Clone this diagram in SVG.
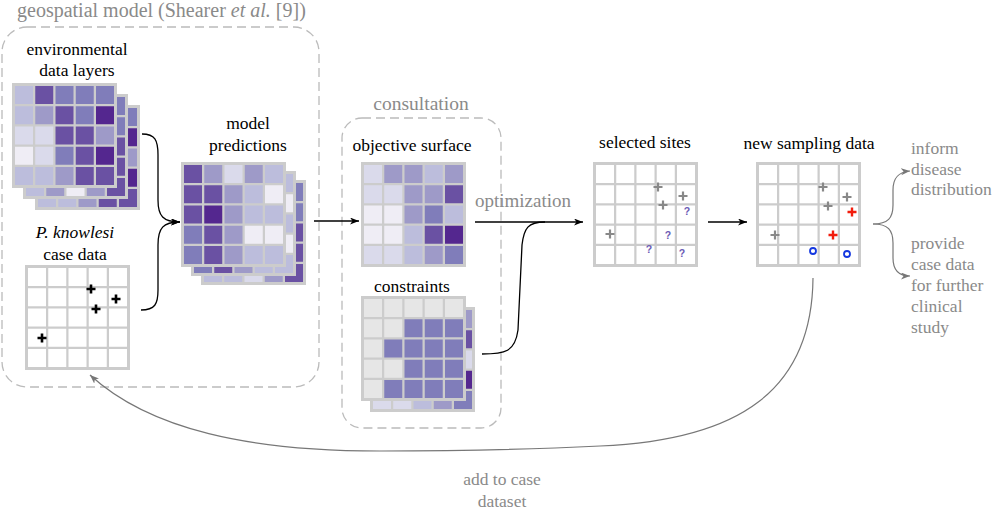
<svg xmlns="http://www.w3.org/2000/svg" width="1000" height="511" viewBox="0 0 1000 511">
<style>
.lbl{font-family:"Liberation Serif","Times New Roman","DejaVu Serif",serif;font-size:17.5px;fill:#000;text-anchor:middle}
.it{font-style:italic}
.gt{font-family:"Liberation Serif","Times New Roman","DejaVu Serif",serif;font-size:17.5px;fill:#8a8a8a}
.gc{text-anchor:middle}
.fr{fill:#cccccc}
.w{fill:#fff}
.c1{fill:#efedf5}.c2{fill:#dadaeb}.c3{fill:#bcbddc}.c4{fill:#9e9ac8}.c5{fill:#807dba}.c6{fill:#6a51a3}.c7{fill:#54278f}.cg{fill:#e6e6e6}
.dash{fill:none;stroke:#bbbbbb;stroke-width:1.3;stroke-dasharray:9 5}
.conn{fill:none;stroke:#000;stroke-width:1.3}
.gconn{fill:none;stroke:#777;stroke-width:1.2}
.pk{stroke:#000;stroke-width:2.6;fill:none}
.pg{stroke:#888;stroke-width:2.2;fill:none}
.pr{stroke:#f21d0d;stroke-width:2.4;fill:none}
.ob{stroke:#1538e0;stroke-width:1.8;fill:none}
.q{font-family:"Liberation Sans",sans-serif;font-weight:bold;font-size:10.5px;fill:#6b5bb5;text-anchor:middle}
</style>
<defs>
<marker id="ab" markerUnits="userSpaceOnUse" markerWidth="10" markerHeight="8" refX="9" refY="3.5" orient="auto"><path d="M0,0 L9,3.5 L0,7 L2.5,3.5 z" fill="#000"/></marker>
<marker id="ag" markerUnits="userSpaceOnUse" markerWidth="10" markerHeight="8" refX="9" refY="3.5" orient="auto"><path d="M0,0 L9,3.5 L0,7 L2.5,3.5 z" fill="#777"/></marker>
<path id="plus" d="M-4.5,0H4.5M0,-4.5V4.5"/>
<g id="wg">
<rect class="fr" width="105" height="105"/>
<rect class="w" x="3" y="3" width="18" height="18"/><rect class="w" x="23.25" y="3" width="18" height="18"/><rect class="w" x="43.5" y="3" width="18" height="18"/><rect class="w" x="63.75" y="3" width="18" height="18"/><rect class="w" x="84" y="3" width="18" height="18"/>
<rect class="w" x="3" y="23.25" width="18" height="18"/><rect class="w" x="23.25" y="23.25" width="18" height="18"/><rect class="w" x="43.5" y="23.25" width="18" height="18"/><rect class="w" x="63.75" y="23.25" width="18" height="18"/><rect class="w" x="84" y="23.25" width="18" height="18"/>
<rect class="w" x="3" y="43.5" width="18" height="18"/><rect class="w" x="23.25" y="43.5" width="18" height="18"/><rect class="w" x="43.5" y="43.5" width="18" height="18"/><rect class="w" x="63.75" y="43.5" width="18" height="18"/><rect class="w" x="84" y="43.5" width="18" height="18"/>
<rect class="w" x="3" y="63.75" width="18" height="18"/><rect class="w" x="23.25" y="63.75" width="18" height="18"/><rect class="w" x="43.5" y="63.75" width="18" height="18"/><rect class="w" x="63.75" y="63.75" width="18" height="18"/><rect class="w" x="84" y="63.75" width="18" height="18"/>
<rect class="w" x="3" y="84" width="18" height="18"/><rect class="w" x="23.25" y="84" width="18" height="18"/><rect class="w" x="43.5" y="84" width="18" height="18"/><rect class="w" x="63.75" y="84" width="18" height="18"/><rect class="w" x="84" y="84" width="18" height="18"/>
</g>
</defs>

<g id="geospatial-model">
<rect class="dash" x="2" y="27" width="317" height="360" rx="25"/>
<text class="gt" x="17" y="17" style="font-size:20px">geospatial model (Shearer <tspan class="it">et al.</tspan> [9])</text>
</g>

<g id="consultation">
<rect class="dash" x="342" y="118" width="159" height="310" rx="20"/>
<text class="gt gc" x="421" y="110" style="font-size:19.5px">consultation</text>
</g>

<g id="environmental-data-layers">
<text class="lbl" x="77" y="55">environmental</text>
<text class="lbl" x="77" y="76">data layers</text>
<g transform="translate(35,105)">
<rect class="fr" width="105" height="105"/>
<rect class="c5" x="84" y="3" width="18" height="18"/><rect class="c7" x="84" y="23.25" width="18" height="18"/><rect class="c4" x="84" y="43.5" width="18" height="18"/><rect class="c7" x="84" y="63.75" width="18" height="18"/><rect class="c6" x="84" y="84" width="18" height="18"/>
<rect class="c3" x="3" y="84" width="18" height="18"/><rect class="c3" x="23.25" y="84" width="18" height="18"/><rect class="c4" x="43.5" y="84" width="18" height="18"/><rect class="c6" x="63.75" y="84" width="18" height="18"/>
</g>
<g transform="translate(23,94)">
<rect class="fr" width="105" height="105"/>
<rect class="c5" x="84" y="3" width="18" height="18"/><rect class="c5" x="84" y="23.25" width="18" height="18"/><rect class="c6" x="84" y="43.5" width="18" height="18"/><rect class="c6" x="84" y="63.75" width="18" height="18"/><rect class="c6" x="84" y="84" width="18" height="18"/>
<rect class="c3" x="3" y="84" width="18" height="18"/><rect class="c4" x="23.25" y="84" width="18" height="18"/><rect class="c1" x="43.5" y="84" width="18" height="18"/><rect class="c4" x="63.75" y="84" width="18" height="18"/>
</g>
<g transform="translate(12,83)">
<rect class="fr" width="105" height="105"/>
<rect class="c3" x="3" y="3" width="18" height="18"/><rect class="c6" x="23.25" y="3" width="18" height="18"/><rect class="c5" x="43.5" y="3" width="18" height="18"/><rect class="c5" x="63.75" y="3" width="18" height="18"/><rect class="c5" x="84" y="3" width="18" height="18"/>
<rect class="c3" x="3" y="23.25" width="18" height="18"/><rect class="c4" x="23.25" y="23.25" width="18" height="18"/><rect class="c6" x="43.5" y="23.25" width="18" height="18"/><rect class="c5" x="63.75" y="23.25" width="18" height="18"/><rect class="c7" x="84" y="23.25" width="18" height="18"/>
<rect class="c2" x="3" y="43.5" width="18" height="18"/><rect class="c2" x="23.25" y="43.5" width="18" height="18"/><rect class="c6" x="43.5" y="43.5" width="18" height="18"/><rect class="c6" x="63.75" y="43.5" width="18" height="18"/><rect class="c4" x="84" y="43.5" width="18" height="18"/>
<rect class="c1" x="3" y="63.75" width="18" height="18"/><rect class="c2" x="23.25" y="63.75" width="18" height="18"/><rect class="c5" x="43.5" y="63.75" width="18" height="18"/><rect class="c6" x="63.75" y="63.75" width="18" height="18"/><rect class="c7" x="84" y="63.75" width="18" height="18"/>
<rect class="c3" x="3" y="84" width="18" height="18"/><rect class="c3" x="23.25" y="84" width="18" height="18"/><rect class="c4" x="43.5" y="84" width="18" height="18"/><rect class="c6" x="63.75" y="84" width="18" height="18"/><rect class="c6" x="84" y="84" width="18" height="18"/>
</g>
</g>

<g id="case-data">
<text class="lbl it" x="75" y="238">P. knowlesi</text>
<text class="lbl" x="75" y="260">case data</text>
<use href="#wg" x="25" y="265"/>
<use href="#plus" class="pk" x="91" y="289"/>
<use href="#plus" class="pk" x="116" y="299"/>
<use href="#plus" class="pk" x="96" y="309"/>
<use href="#plus" class="pk" x="42" y="338"/>
</g>

<g id="model-predictions">
<text class="lbl" x="248" y="129">model</text>
<text class="lbl" x="248" y="151">predictions</text>
<g transform="translate(201,180)">
<rect class="fr" width="105" height="105"/>
<rect class="c5" x="84" y="3" width="18" height="18"/><rect class="c5" x="84" y="23.25" width="18" height="18"/><rect class="c6" x="84" y="43.5" width="18" height="18"/><rect class="c6" x="84" y="63.75" width="18" height="18"/><rect class="c6" x="84" y="84" width="18" height="18"/>
<rect class="c3" x="3" y="84" width="18" height="18"/><rect class="c3" x="23.25" y="84" width="18" height="18"/><rect class="c2" x="43.5" y="84" width="18" height="18"/><rect class="c4" x="63.75" y="84" width="18" height="18"/>
</g>
<g transform="translate(191,171)">
<rect class="fr" width="105" height="105"/>
<rect class="c3" x="84" y="3" width="18" height="18"/><rect class="c1" x="84" y="23.25" width="18" height="18"/><rect class="c3" x="84" y="43.5" width="18" height="18"/><rect class="c1" x="84" y="63.75" width="18" height="18"/><rect class="c3" x="84" y="84" width="18" height="18"/>
<rect class="c5" x="3" y="84" width="18" height="18"/><rect class="c6" x="23.25" y="84" width="18" height="18"/><rect class="c4" x="43.5" y="84" width="18" height="18"/><rect class="c3" x="63.75" y="84" width="18" height="18"/>
</g>
<g transform="translate(181,162)">
<rect class="fr" width="105" height="105"/>
<rect class="c6" x="3" y="3" width="18" height="18"/><rect class="c4" x="23.25" y="3" width="18" height="18"/><rect class="c2" x="43.5" y="3" width="18" height="18"/><rect class="c4" x="63.75" y="3" width="18" height="18"/><rect class="c3" x="84" y="3" width="18" height="18"/>
<rect class="c6" x="3" y="23.25" width="18" height="18"/><rect class="c6" x="23.25" y="23.25" width="18" height="18"/><rect class="c4" x="43.5" y="23.25" width="18" height="18"/><rect class="c3" x="63.75" y="23.25" width="18" height="18"/><rect class="c1" x="84" y="23.25" width="18" height="18"/>
<rect class="c6" x="3" y="43.5" width="18" height="18"/><rect class="c7" x="23.25" y="43.5" width="18" height="18"/><rect class="c4" x="43.5" y="43.5" width="18" height="18"/><rect class="c3" x="63.75" y="43.5" width="18" height="18"/><rect class="c3" x="84" y="43.5" width="18" height="18"/>
<rect class="c5" x="3" y="63.75" width="18" height="18"/><rect class="c6" x="23.25" y="63.75" width="18" height="18"/><rect class="c4" x="43.5" y="63.75" width="18" height="18"/><rect class="c1" x="63.75" y="63.75" width="18" height="18"/><rect class="c1" x="84" y="63.75" width="18" height="18"/>
<rect class="c5" x="3" y="84" width="18" height="18"/><rect class="c6" x="23.25" y="84" width="18" height="18"/><rect class="c4" x="43.5" y="84" width="18" height="18"/><rect class="c3" x="63.75" y="84" width="18" height="18"/><rect class="c3" x="84" y="84" width="18" height="18"/>
</g>
</g>

<g id="objective-surface">
<text class="lbl" x="412" y="151">objective surface</text>
<g transform="translate(361,162)">
<rect class="fr" width="105" height="105"/>
<rect class="c2" x="3" y="3" width="18" height="18"/><rect class="c4" x="23.25" y="3" width="18" height="18"/><rect class="c4" x="43.5" y="3" width="18" height="18"/><rect class="c3" x="63.75" y="3" width="18" height="18"/><rect class="c4" x="84" y="3" width="18" height="18"/>
<rect class="c2" x="3" y="23.25" width="18" height="18"/><rect class="c2" x="23.25" y="23.25" width="18" height="18"/><rect class="c4" x="43.5" y="23.25" width="18" height="18"/><rect class="c4" x="63.75" y="23.25" width="18" height="18"/><rect class="c6" x="84" y="23.25" width="18" height="18"/>
<rect class="c1" x="3" y="43.5" width="18" height="18"/><rect class="c1" x="23.25" y="43.5" width="18" height="18"/><rect class="c4" x="43.5" y="43.5" width="18" height="18"/><rect class="c5" x="63.75" y="43.5" width="18" height="18"/><rect class="c3" x="84" y="43.5" width="18" height="18"/>
<rect class="c1" x="3" y="63.75" width="18" height="18"/><rect class="c1" x="23.25" y="63.75" width="18" height="18"/><rect class="c3" x="43.5" y="63.75" width="18" height="18"/><rect class="c6" x="63.75" y="63.75" width="18" height="18"/><rect class="c7" x="84" y="63.75" width="18" height="18"/>
<rect class="c2" x="3" y="84" width="18" height="18"/><rect class="c2" x="23.25" y="84" width="18" height="18"/><rect class="c3" x="43.5" y="84" width="18" height="18"/><rect class="c4" x="63.75" y="84" width="18" height="18"/><rect class="c5" x="84" y="84" width="18" height="18"/>
</g>
</g>

<g id="constraints">
<text class="lbl" x="412" y="292">constraints</text>
<g transform="translate(370,307)">
<rect class="fr" width="105" height="105"/>
<rect class="c4" x="84" y="3" width="18" height="18"/><rect class="c6" x="84" y="23.25" width="18" height="18"/><rect class="c2" x="84" y="43.5" width="18" height="18"/><rect class="c7" x="84" y="63.75" width="18" height="18"/><rect class="c5" x="84" y="84" width="18" height="18"/>
<rect class="c2" x="3" y="84" width="18" height="18"/><rect class="c2" x="23.25" y="84" width="18" height="18"/><rect class="c3" x="43.5" y="84" width="18" height="18"/><rect class="c4" x="63.75" y="84" width="18" height="18"/>
</g>
<g transform="translate(361,296)">
<rect class="fr" width="105" height="105"/>
<rect class="cg" x="3" y="3" width="18" height="18"/><rect class="cg" x="23.25" y="3" width="18" height="18"/><rect class="cg" x="43.5" y="3" width="18" height="18"/><rect class="cg" x="63.75" y="3" width="18" height="18"/><rect class="cg" x="84" y="3" width="18" height="18"/>
<rect class="cg" x="3" y="23.25" width="18" height="18"/><rect class="cg" x="23.25" y="23.25" width="18" height="18"/><rect class="c5" x="43.5" y="23.25" width="18" height="18"/><rect class="c5" x="63.75" y="23.25" width="18" height="18"/><rect class="c5" x="84" y="23.25" width="18" height="18"/>
<rect class="cg" x="3" y="43.5" width="18" height="18"/><rect class="c5" x="23.25" y="43.5" width="18" height="18"/><rect class="c5" x="43.5" y="43.5" width="18" height="18"/><rect class="c5" x="63.75" y="43.5" width="18" height="18"/><rect class="c5" x="84" y="43.5" width="18" height="18"/>
<rect class="cg" x="3" y="63.75" width="18" height="18"/><rect class="cg" x="23.25" y="63.75" width="18" height="18"/><rect class="c5" x="43.5" y="63.75" width="18" height="18"/><rect class="c5" x="63.75" y="63.75" width="18" height="18"/><rect class="c5" x="84" y="63.75" width="18" height="18"/>
<rect class="cg" x="3" y="84" width="18" height="18"/><rect class="c5" x="23.25" y="84" width="18" height="18"/><rect class="c5" x="43.5" y="84" width="18" height="18"/><rect class="c5" x="63.75" y="84" width="18" height="18"/><rect class="c5" x="84" y="84" width="18" height="18"/>
</g>
</g>

<g id="selected-sites">
<text class="lbl" x="645" y="148">selected sites</text>
<use href="#wg" x="593" y="162"/>
<use href="#plus" class="pg" x="658" y="187"/>
<use href="#plus" class="pg" x="683" y="196"/>
<use href="#plus" class="pg" x="663" y="205"/>
<use href="#plus" class="pg" x="610" y="234"/>
<text class="q" x="687" y="215">?</text>
<text class="q" x="668" y="239">?</text>
<text class="q" x="649" y="253">?</text>
<text class="q" x="682" y="257">?</text>
</g>

<g id="new-sampling-data">
<text class="lbl" x="809" y="149">new sampling data</text>
<use href="#wg" x="756" y="162"/>
<use href="#plus" class="pg" x="823" y="187"/>
<use href="#plus" class="pg" x="847" y="197"/>
<use href="#plus" class="pg" x="828" y="206"/>
<use href="#plus" class="pg" x="775" y="235"/>
<use href="#plus" class="pr" x="852" y="212"/>
<use href="#plus" class="pr" x="833" y="235"/>
<circle class="ob" cx="813" cy="251" r="3"/>
<circle class="ob" cx="847" cy="254" r="3"/>
</g>

<g id="outcomes">
<text class="gt" x="911" y="154">inform</text>
<text class="gt" x="911" y="175">disease</text>
<text class="gt" x="911" y="195">distribution</text>
<text class="gt" x="911" y="249">provide</text>
<text class="gt" x="911" y="270">case data</text>
<text class="gt" x="911" y="291">for further</text>
<text class="gt" x="911" y="312">clinical</text>
<text class="gt" x="911" y="333">study</text>
</g>

<g id="feedback-label">
<text class="gt gc" x="502" y="485">add to case</text>
<text class="gt gc" x="502" y="507">dataset</text>
</g>

<g id="connectors">
<path class="conn" d="M142,134 C155,134 158,140 158,155 L158,200 C158,216 163,222 180,222" marker-end="url(#ab)"/>
<path class="conn" d="M141,310 C155,310 158,304 158,290 L158,245 C158,228 163,222 180,222" marker-end="url(#ab)"/>
<path class="conn" d="M314,221 L359,221" marker-end="url(#ab)"/>
<path class="conn" d="M475,222 L583,222" marker-end="url(#ab)"/>
<path class="conn" d="M482,354 C505,354 515,352 518,330 L522,245 C524,228 528,222 545,222"/>
<text class="gt gc" x="523" y="207" style="font-size:19px">optimization</text>
<path class="conn" d="M708,222 L747,222" marker-end="url(#ab)"/>
<path class="gconn" d="M873,224 C888,224 893,218 893,205 L893,190 C893,178 898,172 910,171" marker-end="url(#ag)"/>
<path class="gconn" d="M873,224 C888,224 893,230 893,243 L893,258 C893,270 898,276 910,276" marker-end="url(#ag)"/>
<path class="gconn" d="M813,278 C812,390 740,440 600,446 C520,450 450,451 380,451 C250,451 150,430 90,375" marker-end="url(#ag)"/>
</g>
</svg>
